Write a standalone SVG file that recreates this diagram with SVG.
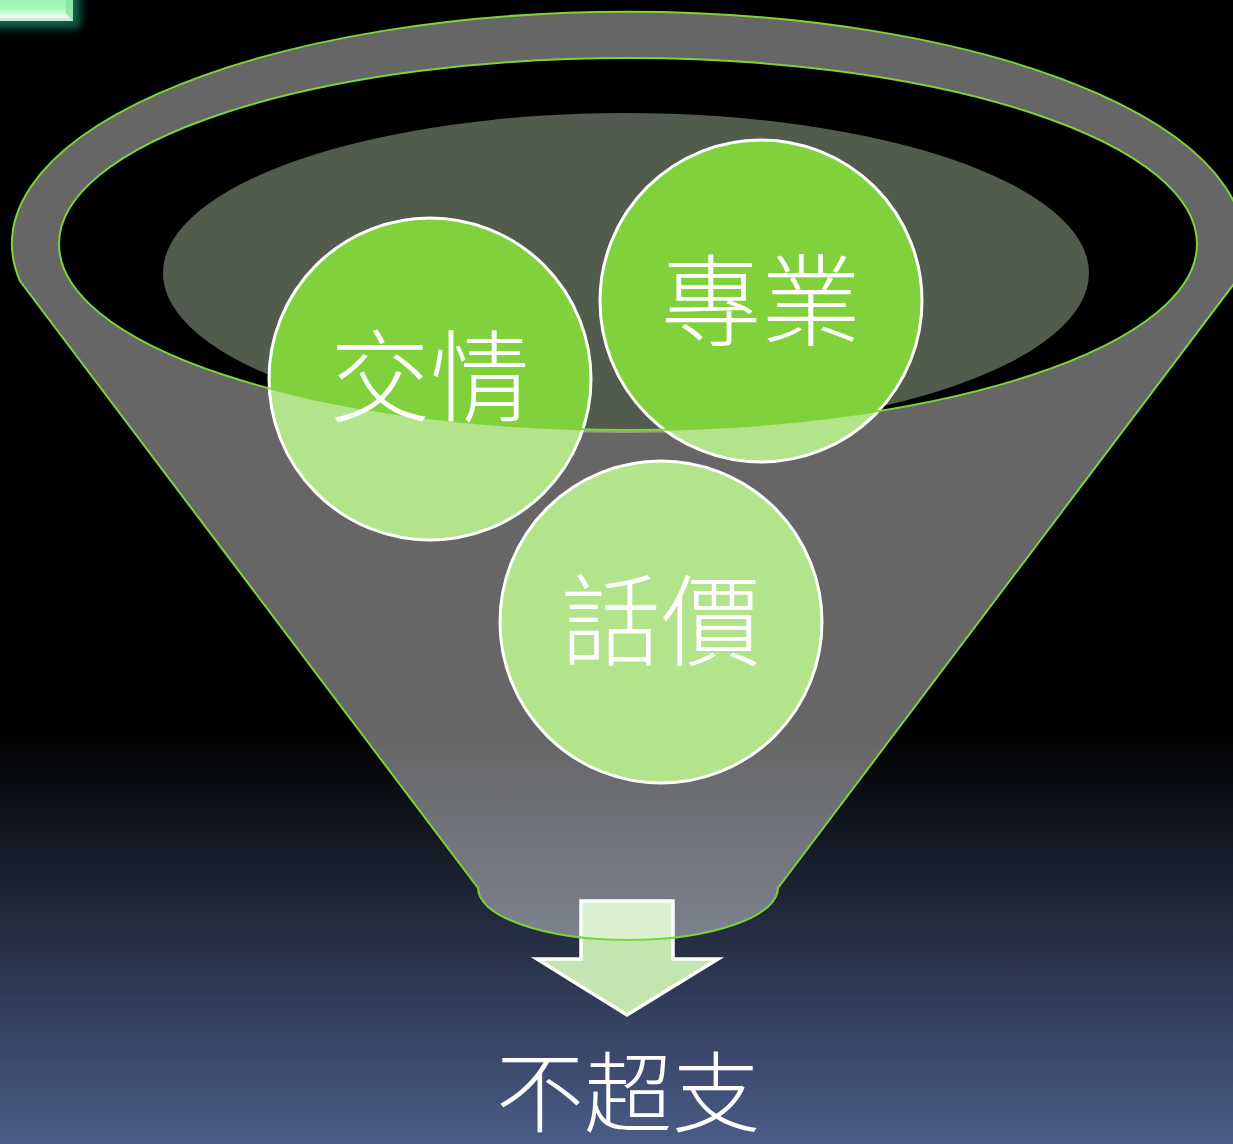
<svg xmlns="http://www.w3.org/2000/svg" width="1233" height="1144" viewBox="0 0 1233 1144">
<defs>
<linearGradient id="bg" x1="0" y1="0" x2="0" y2="1144" gradientUnits="userSpaceOnUse">
<stop offset="0" stop-color="#000"/>
<stop offset="0.64" stop-color="#000"/>
<stop offset="1" stop-color="#4a5d88"/>
</linearGradient>
<linearGradient id="tab" x1="0" y1="0" x2="0" y2="1">
<stop offset="0" stop-color="#98f2ab"/>
<stop offset="0.6" stop-color="#a6f7ba"/>
<stop offset="0.85" stop-color="#e8fff0"/>
<stop offset="1" stop-color="#c9d9cf"/>
</linearGradient>
<filter id="glow" x="-50%" y="-50%" width="200%" height="200%">
<feGaussianBlur stdDeviation="5"/>
</filter>
<style>
.circ{fill:#80d13c;stroke:#fff;stroke-width:3}
.lbl{font-family:"Noto Sans CJK TC","Noto Sans CJK SC",sans-serif;fill:#fff;text-anchor:middle;font-weight:300}
.fstroke{fill:none;stroke:#7ed23a;stroke-width:2}
</style>
</defs>
<rect x="0" y="0" width="1233" height="1144" fill="url(#bg)"/>
<g id="tab-corner">
<rect x="-20" y="-20" width="100" height="48" fill="#0d6b55" filter="url(#glow)"/>
<rect x="-10" y="-10" width="83" height="31" fill="url(#tab)"/>
<polygon points="66,-10 73,-10 73,21 66,14" fill="#7fe09a" opacity="0.7"/>
</g>
<g id="inner-ellipse">
<ellipse cx="626" cy="273" rx="463" ry="160" fill="#515c4c"/>
</g>
<g id="node-jiaoqing">
<circle class="circ" cx="430" cy="379" r="161"/>
</g>
<g id="node-zhuanye">
<circle class="circ" cx="761" cy="301" r="161"/>
</g>
<g id="node-huajia">
<circle class="circ" cx="661" cy="622" r="161"/>
</g>
<g id="connectors">
<polygon points="581,901 673,901 673,959 718,959 627,1015 537,959 581,959" fill="#c3e6b0" stroke="#fff" stroke-width="3.5" stroke-linejoin="miter"/>
</g>
<g id="funnel">
<path d="M478,888 L20,281 A616,232 0 1 1 1236,281 L778,888 A150,52 0 0 1 478,888 Z M59,244 A569,186 0 0 0 1197,244 A569,186 0 0 0 59,244 Z" fill="#fff" fill-opacity="0.4" fill-rule="evenodd"/>
<path class="fstroke" d="M478,888 L20,281 A616,232 0 1 1 1236,281 L778,888 A150,52 0 0 1 478,888 Z"/>
<ellipse class="fstroke" cx="628" cy="244" rx="569" ry="186"/>
</g>
<g id="labels">
<text class="lbl" x="430" y="414" font-size="100">交情</text>
<text class="lbl" x="761" y="338" font-size="100">專業</text>
<text class="lbl" x="661" y="658" font-size="100">話價</text>
<text class="lbl" x="628" y="1125" font-size="88">不超支</text>
</g>
</svg>
